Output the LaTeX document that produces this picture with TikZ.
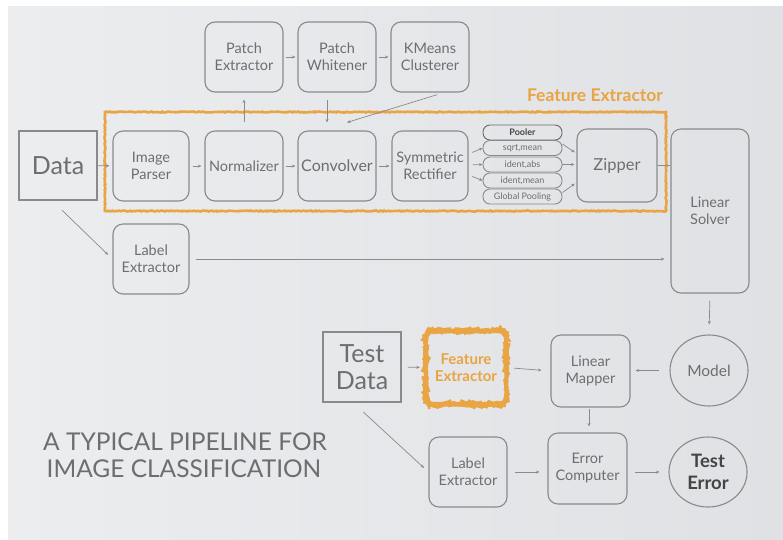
\documentclass[tikz,border=0pt]{standalone}
\usepackage{fontspec}
\setmainfont{Lato}
\usetikzlibrary{arrows.meta,calc,decorations.pathmorphing,shapes.geometric}
\definecolor{bgl}{HTML}{ECEDEF}
\definecolor{bgr}{HTML}{E0E1E4}
\definecolor{boxc}{HTML}{8A8A8A}
\definecolor{txtc}{HTML}{6E6E6E}
\definecolor{orng}{HTML}{E9A443}
\definecolor{darkt}{HTML}{444444}
\begin{document}
\begin{tikzpicture}[x=1pt,y=-1pt,
  box/.style={draw=boxc,line width=1.1pt,rounded corners=10pt,text=txtc,align=center,
    font=\fontsize{14.5}{17}\selectfont,inner sep=0pt,minimum width=78pt,minimum height=70pt},
  sqbox/.style={draw=boxc,line width=1.1pt,text=txtc,align=center,inner sep=0pt,
    minimum width=78pt,minimum height=70pt},
  ell/.style={draw=boxc,line width=1.1pt,ellipse,text=txtc,align=center,inner sep=0pt,
    minimum width=78pt,minimum height=71pt},
  pill/.style={draw=boxc,line width=0.9pt,rounded corners=7pt,minimum width=79pt,
    minimum height=15pt,font=\fontsize{9}{10}\selectfont,text=txtc,inner sep=0pt},
  arr/.style={-{Stealth[length=3.5pt,width=3pt]},draw=boxc,line width=0.7pt},
  plain/.style={draw=boxc,line width=0.7pt},
  orough/.style={draw=orng,line width=2.6pt,decorate,
    decoration={random steps,segment length=1.5pt,amplitude=0.5pt}},
  orough2/.style={draw=orng,line width=2.3pt,decorate,
    decoration={random steps,segment length=1.5pt,amplitude=0.35pt}}
]
\useasboundingbox (0,0) rectangle (783,539);
\fill[white] (0,0) rectangle (783,539);
\shade[left color=bgl,right color=bgr] (8,6) rectangle (783,539);

% orange feature extractor frame
\draw[orough] (105,112) rectangle (666,211);
\node[font=\bfseries\fontsize{17.5}{20}\selectfont,text=orng] (felabel) at (595,95) {Feature Extractor};

% top row
\node[box] (PE) at (244,57) {Patch\\Extractor};
\node[box] (PW) at (337,57) {Patch\\Whitener};
\node[box] (KM) at (430,57) {KMeans\\Clusterer};

% main row
\node[sqbox,font=\fontsize{25}{28}\selectfont,minimum height=69pt] (Data) at (58,165.5) {Data};
\node[box,minimum width=76pt] (IP) at (151,166) {Image\\Parser};
\node[box] (NO) at (244,166) {Normalizer};
\node[box,font=\fontsize{16}{18}\selectfont] (CO) at (337,166) {Convolver};
\node[box,minimum width=76pt] (SR) at (430,166) {Symmetric\\Rectifier};
\node[box,minimum width=80pt,minimum height=73pt,font=\fontsize{16.5}{19}\selectfont] (ZI) at (617,165.5) {Zipper};

% pooler stack
\node[pill,draw=darkt!80,font=\bfseries\fontsize{9}{10}\selectfont,text=darkt] (P0) at (522.5,132.5) {Pooler};
\node[pill] (P1) at (522.5,148) {sqrt,mean};
\node[pill] (P2) at (522.5,164.5) {ident,abs};
\node[pill] (P3) at (522.5,180.5) {ident,mean};
\node[pill] (P4) at (522.5,196.5) {Global Pooling};

% label extractor and linear solver
\node[box,minimum width=76pt] (LE1) at (151,259) {Label\\Extractor};
\node[box,minimum height=164pt] (LS) at (710,211) {Linear\\Solver};

% bottom part
\node[sqbox,font=\fontsize{25}{27}\selectfont] (TD) at (362,367) {Test\\Data};
\node[draw=none,minimum width=80pt,minimum height=73pt,text=orng,align=center,
  font=\bfseries\fontsize{15}{17}\selectfont,inner sep=0pt] (FE2) at (466,367.5) {Feature\\Extractor};
\draw[orough2,rounded corners=9pt] (FE2.south west) rectangle (FE2.north east);
\node[box,minimum width=79pt,minimum height=72pt] (LM) at (590.5,371) {Linear\\Mapper};
\node[ell,font=\fontsize{15.5}{18}\selectfont] (MO) at (709,370.5) {Model};
\node[box] (LE2) at (468,472) {Label\\Extractor};
\node[box,minimum width=79pt,minimum height=71pt] (EC) at (587.5,468.5) {Error\\Computer};
\node[ell,minimum height=70pt,font=\bfseries\fontsize{18.5}{22}\selectfont,text=darkt] (TE) at (708,472) {Test\\Error};

% title
\node[anchor=base,font=\fontsize{24.5}{28}\selectfont,text=txtc,inner sep=0pt] (T1) at (185,450) {A TYPICAL PIPELINE FOR};
\node[anchor=base,font=\fontsize{24.5}{28}\selectfont,text=txtc,inner sep=0pt] (T2) at (184,477) {IMAGE CLASSIFICATION};

% connectors top
\draw[arr,shorten <=2pt,shorten >=2pt] (PE) -- (PW);
\draw[arr,shorten <=2pt,shorten >=2pt] (PW) -- (KM);
\draw[arr,shorten <=8pt,shorten >=7pt] (NO.north) -- (PE.south);
\draw[arr,shorten <=7pt,shorten >=8pt] ($(PW.south)+(-10,0)$) -- ($(CO.north)+(-10,0)$);
\coordinate (kmend) at ($(CO.north)+(10,-8)$);
\draw[arr,shorten <=7pt] ($(KM.south)+(14,0)$) -- (kmend);

% main row connectors
\draw[arr,shorten >=3pt] (Data) -- (IP);
\draw[arr,shorten <=3pt,shorten >=3pt] (IP) -- (NO);
\draw[arr,shorten <=2pt,shorten >=2pt] (NO) -- (CO);
\draw[arr,shorten <=2pt,shorten >=2pt] (CO) -- (SR);
\draw[arr,shorten <=4pt] ($(SR.east)+(0,-12)$) -- (P1.west);
\draw[arr,shorten <=4pt] ($(SR.east)+(0,-1)$) -- (P2.west);
\draw[arr,shorten <=4pt] ($(SR.east)+(0,9)$) -- (P3.west);
\draw[arr,shorten >=2pt] ($(P1.east)+(0,-4)$) -- ($(ZI.west)+(0,-12)$);
\draw[arr,shorten >=2pt] (P2.east) -- (P2.east -| ZI.west);
\draw[arr,shorten >=2pt] ($(P4.east)+(0,-4)$) -- ($(ZI.west)+(0,17)$);
\draw[plain] (ZI.east) -- (ZI.east -| LS.west);

% label extractor paths
\draw[arr,shorten <=14pt,shorten >=6pt] ($(Data.south)+(-6,0)$) -- (LE1.west);
\draw[arr,shorten <=6pt,shorten >=6pt] (LE1.east) -- (LE1.east -| LS.west);

% bottom connectors
\draw[arr,shorten <=7pt,shorten >=10pt] (LS.south) -- (MO.north);
\draw[arr,shorten <=10pt,shorten >=5pt] (MO.west) -- (MO.west -| LM.east);
\draw[arr,shorten <=6pt,shorten >=6pt] (TD.east) -- (FE2.west);
\draw[arr,shorten <=8pt,shorten >=9pt] (FE2.east) -- (LM.west);
\draw[arr,shorten <=1pt,shorten >=6pt] ($(LM.south)+(-1.5,0)$) -- ($(EC.north)+(1.5,0)$);
\draw[arr,shorten <=14pt,shorten >=6pt] ($(TD.south)+(-9,0)$) -- (LE2.west);
\draw[arr,shorten <=7pt,shorten >=8pt] (LE2.east) -- (LE2.east -| EC.west);
\draw[arr,shorten <=7pt,shorten >=9pt] (EC.east |- TE.west) -- (TE.west);
\end{tikzpicture}
\end{document}
